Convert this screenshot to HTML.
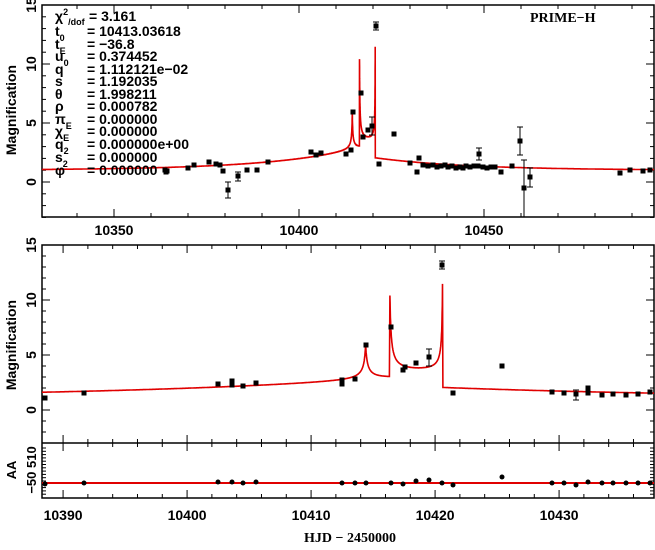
<!DOCTYPE html>
<html><head><meta charset="utf-8"><style>
body{margin:0;background:#fff;width:655px;height:545px;overflow:hidden}
text{font-family:"Liberation Sans",sans-serif;font-weight:bold;fill:#000}
</style></head><body>
<svg id="s" width="655" height="545" xmlns="http://www.w3.org/2000/svg">
<g id="g"></g>
<text x="530" y="22" font-family="Liberation Serif" style="font-family:'Liberation Serif',serif;font-size:14px">PRIME−H</text>
<text transform="translate(16,110) rotate(-90)" text-anchor="middle" font-size="14">Magnification</text>
<text transform="translate(16,345) rotate(-90)" text-anchor="middle" font-size="14">Magnification</text>
<text transform="translate(16,470) rotate(-90)" text-anchor="middle" font-size="13">AA</text>
<text transform="translate(36,470) rotate(-90)" text-anchor="middle" font-size="13">−50 510</text>
<text x="350" y="542" text-anchor="middle" font-size="14" style="font-family:'Liberation Serif',serif">HJD  −  2450000</text>
</svg>
<script>
var g=document.getElementById('g'),h='';
function L(x1,y1,x2,y2,c,w){h+='<line x1="'+x1+'" y1="'+y1+'" x2="'+x2+'" y2="'+y2+'" stroke="'+(c||'#000')+'" stroke-width="'+(w||1)+'"/>';}
function T(x,y,s,a,fs){h+='<text x="'+x+'" y="'+y+'" text-anchor="'+(a||'middle')+'" font-size="'+(fs||14)+'">'+s+'</text>';}
function model(t){
 if(t<10416.35){var b=1+1.6*Math.exp((t-10413)/25);return b+0.46/(Math.abs(t-10414.4)+0.14);}
 if(t<10420.62){return 3.3+0.7/(t-10416.35+0.09)+0.48/(10420.62-t+0.04);}
 return 1+1.05*Math.exp(-(t-10420.62)/25);
}
// top panel
var X1=function(t){return 114+(t-10350)*3.7},Y1=function(m){return 182-m*11.8};
var X2=function(t){return 42+(t-10388.3)*12.4},Y2=function(m){return 410-m*11.0};
function frame(x0,y0,x1,y1){h+='<rect x="'+x0+'" y="'+y0+'" width="'+(x1-x0)+'" height="'+(y1-y0)+'" fill="none" stroke="#000" stroke-width="1.5"/>';}
// top frame
frame(42,5,654,217);
for(var t=10340;t<=10490;t+=10){var x=X1(t);if(x<42||x>654)continue;var M=t%50==0;L(x,217,x,217-(M?8:4));L(x,5,x,5+(M?8:4));if(M)T(x,235,t);}
for(var m=-3;m<=15;m++){var y=Y1(m);var M=m%5==0;L(42,y,42+(M?8:4),y);L(654,y,654-(M?8:4),y);if(M)h+='<text transform="translate(36,'+y+') rotate(-90)" text-anchor="middle" font-size="14">'+m+'</text>';}
// bottom frame
frame(42,245,654,498);L(42,443,654,443,'#000',1.5);
for(var t=10388;t<=10438;t+=2){var x=X2(t);if(x<42||x>654)continue;var M=t%10==0;[245,443].forEach(function(yy){L(x,yy,x,yy+(M?8:4));});[443,498].forEach(function(yy){L(x,yy,x,yy-(M?8:4));});if(M)T(x,520,t);}
for(var m=-3;m<=15;m++){var y=Y2(m);var M=m%5==0;L(42,y,42+(M?8:4),y);L(654,y,654-(M?8:4),y);if(M&&y<440)h+='<text transform="translate(36,'+y+') rotate(-90)" text-anchor="middle" font-size="14">'+m+'</text>';}
for(var y=448;y<=496;y+=3.3){var M=Math.abs(y-483)<1||Math.abs(y-466.5)<1||Math.abs(y-450)<1;L(42,y,42+(M?8:4),y);L(654,y,654-(M?8:4),y);}
// curves
function path(X,Y,t0,t1,st){var p='',first=true;for(var t=t0;t<=t1;t+=st){var m=model(t);if(m>15.5)m=15.5;var x=X(t),y=Y(m);p+=(first?'M':'L')+x.toFixed(1)+','+y.toFixed(1);first=false;}return p;}
function pc(X,Y,t0,t1){var p=path(X,Y,t0,10416.34,0.02);p+=path(X,Y,10416.36,10420.61,0.01).replace('M','L');p+=path(X,Y,10420.63,t1,0.05).replace('M','L');h+='<path d="'+p+'" fill="none" stroke="#e00000" stroke-width="1.6"/>';}
h+='<clipPath id="c1"><rect x="42" y="5" width="612" height="212"/></clipPath><clipPath id="c2"><rect x="42" y="245" width="612" height="198"/></clipPath>';
h+='<g clip-path="url(#c1)">';var s=h;h='';pc(X1,Y1,10330,10497);s+=h;h=s+'</g><g clip-path="url(#c2)">';s=h;h='';pc(X2,Y2,10388,10438);s+=h;h=s+'</g>';
L(42,483,654,483,'#e00000',2);
// data points
function P(x,y,e){h+='<rect x="'+(x-2.5)+'" y="'+(y-2.5)+'" width="5" height="5" fill="#000"/>';if(e){L(x,e[0],x,e[1]);L(x-3,e[0],x+3,e[0]);L(x-3,e[1],x+3,e[1]);}}
[[165,170],[166,172],[167,171],[188,168],[194,165],[209,162],[216,164],[220,165],[223,171],[228,190,[182,198]],[238,176,[172,181]],[247,170],[257,170],[268,162],[311,152],[316,155],[321,153],
[346,154],[351,150],[353,112],[361,93],[363,137],[368,130],[372,126,[117,135]],[376,26,[22,30]],[379,164],[394,134],[410,163],[417,172],[419,158],
[423,165],[428,166],[433,165],[437,167],[441,166],[445,165],[448,167],[452,166],[456,168],[460,167],[463,168],[466,166],[470,167],[474,166],[478,166],[483,167],[487,168],[491,167],[495,167],
[479,154,[148,160]],[501,172],[512,166],[520,141,[127,155]],[524,188,[160,217]],[530,177,[168,187]],[620,173],[630,170],[643,171],[650,170]
].forEach(function(p){P(p[0],p[1],p[2]);});
[[45,398],[84,393],[218,384],[232,381],[232,385],[243,386],[256,383],[342,380],[342,384],[355,379],[366,345],[391,327],[403,370],[405,367],[416,363],[429,357,[349,366]],[442,265,[261,269]],[453,393],[502,366],[552,392],[564,393],[576,394,[390,400]],[588,388],[588,393],[602,395],[613,394],[626,395],[638,394],[650,392]
].forEach(function(p){P(p[0],p[1],p[2]);});
[[45,484],[84,483],[218,482],[232,482],[243,483],[256,482],[342,483],[355,483],[366,483],[391,483],[403,484],[416,481],[429,480],[442,483],[453,485],[502,477],[552,483],[564,483],[576,485],[588,482],[602,483],[613,483],[626,483],[638,483],[650,483]
].forEach(function(p){h+='<circle cx="'+p[0]+'" cy="'+p[1]+'" r="2.5" fill="#000"/>';});
// params
var lab=[['χ<tspan font-size="9" dy="-6">2</tspan><tspan font-size="9" dy="10">/dof</tspan>','= 3.161',16],['t<tspan font-size="9" dy="5">0</tspan>','= 10413.03618',31],['t<tspan font-size="9" dy="5">E</tspan>','= −36.8',44],['u<tspan font-size="9" dy="5">0</tspan>','= 0.374452',56],['q','= 1.112121e−02',69],['s','= 1.192035',81],['θ','= 1.998211',94],['ρ','= 0.000782',106],['π<tspan font-size="9" dy="5">E</tspan>','= 0.000000',119],['χ<tspan font-size="9" dy="5">E</tspan>','= 0.000000',131],['q<tspan font-size="9" dy="5">2</tspan>','= 0.000000e+00',144],['s<tspan font-size="9" dy="5">2</tspan>','= 0.000000',157],['φ','= 0.000000',170]];
lab.forEach(function(l,i){h+='<text x="55" y="'+(l[2]+5)+'" font-size="14" text-anchor="start">'+l[0]+'</text>';h+='<text x="'+(i==0?89:87)+'" y="'+(l[2]+5)+'" font-size="14" text-anchor="start">'+l[1]+'</text>';});
g.innerHTML=h;
</script>
</body></html>
